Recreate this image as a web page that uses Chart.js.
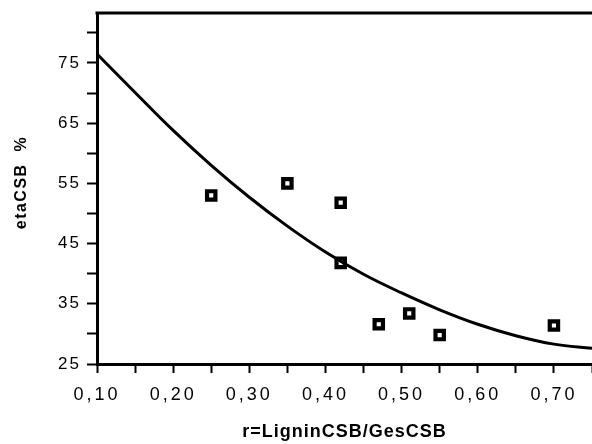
<!DOCTYPE html>
<html>
<head>
<meta charset="utf-8">
<script src="https://cdn.jsdelivr.net/npm/chart.js@4/dist/chart.umd.min.js"></script>
<style>
  html, body { margin: 0; padding: 0; background: #fff; }
  #wrap { width: 592px; height: 444px; position: relative; }
</style>
</head>
<body>
<div id="wrap"><canvas id="c" width="592" height="444"></canvas></div>
<script>
// ---- data ----
const curveX = [0.10, 0.15, 0.20, 0.25, 0.30, 0.35, 0.40, 0.45, 0.50, 0.55, 0.60, 0.65, 0.70, 0.75];
const curveY = [76.5, 70.1, 63.8, 58.0, 52.7, 47.9, 43.6, 39.9, 36.8, 34.0, 31.6, 29.7, 28.3, 27.6];
const pointX = [0.25, 0.35, 0.42, 0.42, 0.47, 0.51, 0.55, 0.70];
const pointY = [53.0, 55.0, 51.8, 41.8, 31.6, 33.4, 29.8, 31.4];
const xLabelValues = [0.10, 0.20, 0.30, 0.40, 0.50, 0.60, 0.70];
const yLabelValues = [25, 35, 45, 55, 65, 75];
const xTitle = 'r=LigninCSB/GesCSB';
const yTitle = 'etaCSB  %';

const curveData = curveX.map((x, i) => ({ x: x, y: curveY[i] }));
const pointData = pointX.map((x, i) => ({ x: x, y: pointY[i] }));

const FONT = "'Liberation Sans', Arial, Helvetica, sans-serif";

const spacingPlugin = {
  id: 'spacing',
  beforeDraw(chart) {
    Object.values(chart.scales).forEach(scale => {
      if (scale._lsWrapped) return;
      scale._lsWrapped = true;
      const ls = scale.options._ls || {};
      const origLabels = scale.drawLabels.bind(scale);
      const origTitle = scale.drawTitle.bind(scale);
      scale.drawLabels = function (area) {
        const ctx = chart.ctx; ctx.save(); ctx.letterSpacing = (ls.labels || 0) + 'px';
        origLabels(area); ctx.restore();
      };
      scale.drawTitle = function (area) {
        const ctx = chart.ctx; ctx.save(); ctx.letterSpacing = (ls.title || 0) + 'px';
        ctx.translate(0, ls.titleDy || 0);
        origTitle(area); ctx.restore();
      };
    });
  },
  afterDraw(chart) {
    const { ctx, chartArea } = chart;
    ctx.save();
    ctx.strokeStyle = '#000';
    ctx.lineWidth = 3;
    ctx.beginPath();
    ctx.moveTo(chartArea.left - 1.5, chartArea.top);
    ctx.lineTo(chartArea.right, chartArea.top);
    ctx.stroke();
    ctx.restore();
  }
};

new Chart(document.getElementById('c'), {
  type: 'scatter',
  data: {
    datasets: [
      {
        label: 'fit',
        data: curveData,
        showLine: true,
        borderColor: '#000',
        borderWidth: 3,
        pointRadius: 0,
        tension: 0.4,
        fill: false,
        clip: 2
      },
      {
        label: 'measured',
        data: pointData,
        showLine: false,
        pointStyle: 'rect',
        pointRadius: 5.9,
        pointBackgroundColor: '#fff',
        pointBorderColor: '#000',
        pointBorderWidth: 4.2,
        clip: false
      }
    ]
  },
  options: {
    responsive: false,
    animation: false,
    devicePixelRatio: 1,
    layout: { autoPadding: false, padding: { top: 13, right: 0, bottom: 0, left: 0 } },
    plugins: { legend: { display: false }, tooltip: { enabled: false } },
    scales: {
      x: {
        type: 'linear',
        min: 0.1,
        max: 0.75,
        _ls: { labels: 3, title: 1 },
        afterFit(scale) { scale.height = 80; scale.paddingLeft = 0; scale.paddingRight = 0; },
        ticks: {
          stepSize: 0.05,
          includeBounds: false,
          autoSkip: false,
          maxRotation: 0,
          color: '#000',
          padding: 11,
          font: { family: FONT, size: 18 },
          callback(v) {
            const hit = xLabelValues.find(t => Math.abs(t - v) < 1e-6);
            return hit !== undefined ? hit.toFixed(2).replace('.', ',') : '';
          }
        },
        grid: { drawOnChartArea: false, drawTicks: true, tickLength: 9, tickWidth: 2, tickColor: '#000' },
        border: { display: true, color: '#000', width: 3 },
        title: {
          display: true,
          text: xTitle,
          color: '#000',
          font: { family: FONT, size: 18, weight: 'bold' },
          padding: { top: 0, bottom: 1 }
        }
      },
      y: {
        type: 'linear',
        min: 25,
        max: 83.3,
        _ls: { labels: 2, title: 1.5, titleDy: -6 },
        afterFit(scale) { scale.width = 97; scale.paddingTop = 0; scale.paddingBottom = 0; },
        ticks: {
          stepSize: 5,
          includeBounds: false,
          autoSkip: false,
          color: '#000',
          padding: 6,
          font: { family: FONT, size: 17 },
          callback(v) {
            const hit = yLabelValues.find(t => Math.abs(t - v) < 1e-6);
            return hit !== undefined ? String(hit) : '';
          }
        },
        grid: { drawOnChartArea: false, drawTicks: true, tickLength: 10, tickWidth: 2, tickColor: '#000' },
        border: { display: true, color: '#000', width: 3 },
        title: {
          display: true,
          text: yTitle,
          color: '#000',
          font: { family: FONT, size: 16, weight: 'bold' },
          padding: { top: 12, bottom: 0 }
        }
      }
    }
  },
  plugins: [spacingPlugin]
});
</script>
</body>
</html>
